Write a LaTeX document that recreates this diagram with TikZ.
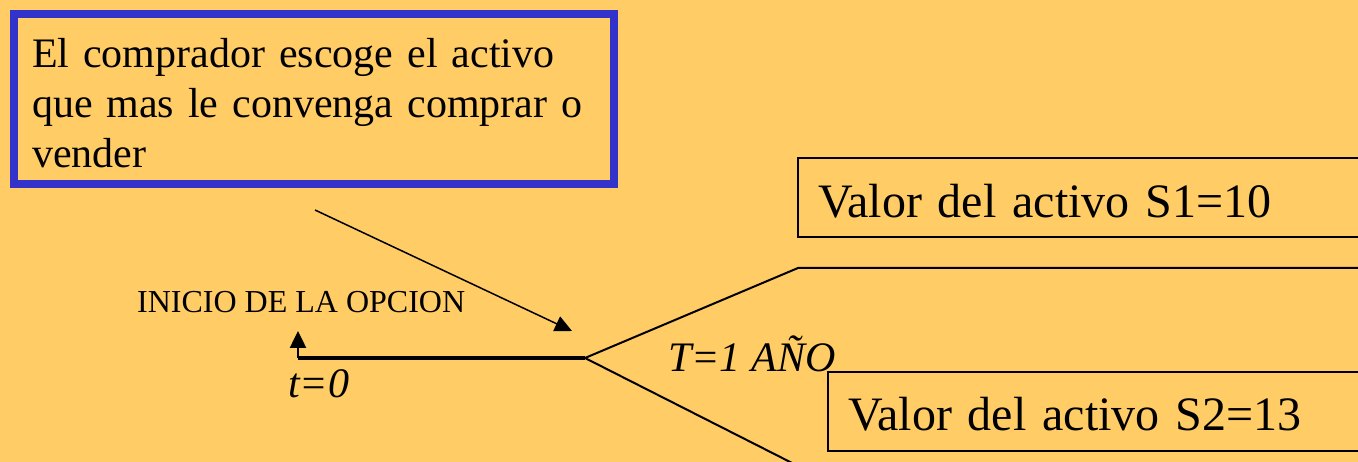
\documentclass[tikz,border=0pt]{standalone}
\usepackage{fontspec}
\setmainfont{Liberation Serif}
\usetikzlibrary{arrows.meta}
\definecolor{slideGold}{RGB}{255, 204, 102}
\definecolor{boxBlue}{RGB}{51, 51, 204}

\begin{document}
\begin{tikzpicture}[x=1pt, y=-1pt,
    valuebox/.style={draw, line width=2pt, anchor=north west, minimum width=620,
      minimum height=79, inner xsep=20, text width=580, align=left, text depth=0pt,
      font=\fontsize{48}{56}\selectfont},
    axislabel/.style={anchor=base west, inner sep=0pt, font=\fontsize{42}{50}\selectfont\itshape},
    tip/.style={-{Triangle[length=17pt, width=16pt]}}]
        \fill[slideGold] (0,0) rectangle (1358,462);              % slide background
        \useasboundingbox (0,0) rectangle (1358,462);
        \clip (0,0) rectangle (1358,462);
        % Note box
        \node[draw=boxBlue, line width=8pt, anchor=north west, minimum width=600,
          minimum height=170, text width=564, inner xsep=18, align=left, text height=38pt,
          font=\fontsize{42}{50}\selectfont] (buyer) at (10,10)
          {El comprador escoge el activo\\que mas le convenga comprar o\\vender};
        % Value boxes (run off the right edge)
        \node[valuebox, text height=41pt] (valueS1) at (797,157) {Valor del activo S1=10};
        \node[valuebox, text height=38pt] (valueS2) at (827,371) {Valor del activo S2=13};
        % Time line
        \coordinate (start) at (298,358);
        \coordinate (startTip) at (298,331);
        \coordinate (fork) at (585,358);
        \coordinate (noteEnd) at (315,210);
        \coordinate (noteTip) at (572,331);
        \coordinate (upBend) at (798,268);
        \coordinate (upEnd) at (1370,268);
        \coordinate (downEnd) at (800,467);
        \draw[line width=4pt] (start) -- (fork);                 % option life
        \draw[line width=2.5pt, tip] (start) -- (startTip);      % start marker
        \draw[line width=1.5pt, tip] (noteEnd) -- (noteTip);     % note pointer
        \draw[line width=2pt] (fork) -- (upBend) -- (upEnd);     % upper branch
        \draw[line width=2pt] (fork) -- (downEnd);               % lower branch
        % Labels
        \node[anchor=base west, inner sep=0pt, font=\fontsize{32}{38}\selectfont] (begin) at (137,313) {INICIO DE LA OPCION};
        \node[axislabel] (tZero) at (288,397) {t=0};
        \node[axislabel] (tOne) at (668,372) {T=1 AÑO};
      \end{tikzpicture}
\end{document}
